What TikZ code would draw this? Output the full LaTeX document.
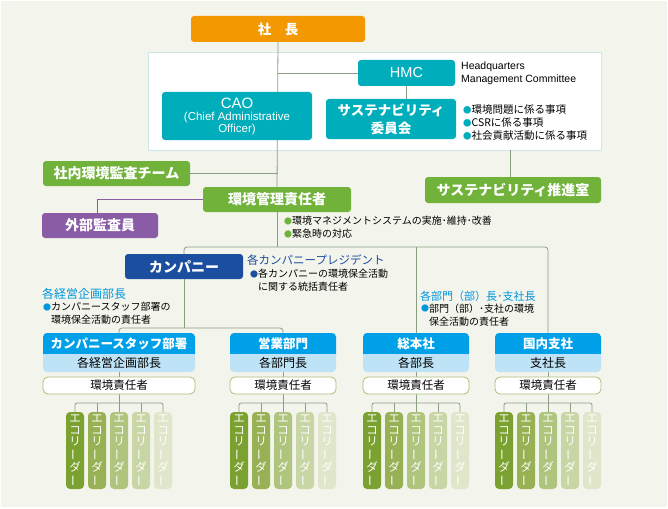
\documentclass[tikz,border=0pt]{standalone}
\usepackage{fontspec}
\setmainfont{Noto Sans CJK JP}
\newfontfamily\lat{Liberation Sans}
\usepackage{graphicx}
\usetikzlibrary{calc}
\definecolor{bgc}{HTML}{F3F4EC}
\definecolor{orangec}{HTML}{F39800}
\definecolor{tealc}{HTML}{00AEBB}
\definecolor{greenc}{HTML}{71B33A}
\definecolor{purplec}{HTML}{8B5CA6}
\definecolor{navyc}{HTML}{1B4E9E}
\definecolor{hbluec}{HTML}{00A0E9}
\definecolor{lbluec}{HTML}{BEE3F7}
\definecolor{cyanc}{HTML}{0096DB}
\definecolor{linec}{HTML}{8A9F82}
\definecolor{panelc}{HTML}{CFE6E8}
\definecolor{respc}{HTML}{A9C07A}
\definecolor{ecoa}{HTML}{7BA130}
\definecolor{ecob}{HTML}{97B154}
\definecolor{ecoc}{HTML}{AFC47D}
\definecolor{ecod}{HTML}{C8D5A4}
\definecolor{ecoe}{HTML}{DFE6CA}
\pgfdeclarelayer{back}
\pgfdeclarelayer{mid}
\pgfsetlayers{back,mid,main}
\newcommand\bul[1]{\textcolor{#1}{\raisebox{0.5pt}{\scalebox{0.8}{●}}}}
\newcommand\nobul{\phantom{\scalebox{0.8}{●}}}
\newcommand\ecobar{\rotatebox[origin=c]{90}{ー}}
\newcommand\ecotext{エ\\コ\\リ\\\ecobar\\ダ\\\ecobar}
\newcommand\drawgroup[5]{%
  \fill[hbluec] ({#2-#3/2},354) {[rounded corners=4pt] -- ({#2-#3/2},333) -- ({#2+#3/2},333)} -- ({#2+#3/2},354) -- cycle;
  \fill[lbluec] ({#2-#3/2},354) {[rounded corners=4pt] -- ({#2-#3/2},372) -- ({#2+#3/2},372)} -- ({#2+#3/2},354) -- cycle;
  \node[hdrtext, minimum width=#3] (#1h) at (#2,343.5) {#4};
  \node[subtext, minimum width=#3] (#1s) at (#2,363) {#5};
  \node[resp, minimum width=#3] (#1r) at (#2,385.5) {環境責任者};
  \foreach \i/\c in {1/ecoa,2/ecob,3/ecoc,4/ecod,5/ecoe}
    \node[eco, fill=\c] (#1e\i) at ({#2+(\i-3)*22},450.5) {\ecotext};
  \coordinate (#1bus) at (#2,403);
  \begin{pgfonlayer}{mid}
  \draw[conn] (#1s.south) -- (#1r.north);
  \draw[conn] (#1r.south) -- (#1e3.north);
  \draw[conn, rounded corners=2pt] (#1e1.north) |- (#1bus) -| (#1e5.north);
  \draw[conn] (#1e2.north) -- (#1e2.north |- #1bus);
  \draw[conn] (#1e4.north) -- (#1e4.north |- #1bus);
  \end{pgfonlayer}
}
\begin{document}
\begin{tikzpicture}[x=1pt,y=-1pt,
  box/.style={rounded corners=3pt, inner sep=0pt, text=white, align=center},
  conn/.style={draw=linec, line width=0.8pt},
  big/.style={font=\fontsize{14}{16}\selectfont\bfseries},
  hdrtext/.style={inner sep=0pt, minimum height=21pt, text=white, font=\fontsize{12.5}{14}\selectfont\bfseries},
  subtext/.style={inner sep=0pt, minimum height=18pt, text=black, font=\fontsize{12}{14}\selectfont},
  resp/.style={draw=respc, line width=0.8pt, fill=white, rounded corners=5pt, inner sep=0pt, minimum height=17pt, font=\fontsize{11.5}{13}\selectfont},
  eco/.style={rounded corners=4pt, inner sep=0pt, minimum width=18pt, minimum height=77pt, text=white, align=center, font=\fontsize{11.5}{11.6}\selectfont},
  note/.style={inner sep=0pt, align=left, anchor=west, font=\fontsize{10}{13}\selectfont}
]
\useasboundingbox (0,0) rectangle (668,508);
\begin{pgfonlayer}{back}
\fill[bgc] (0,0) rectangle (668,508);
\draw[white, line width=1pt] (0.5,0.5) rectangle (667.5,507.5);
\end{pgfonlayer}
\begin{pgfonlayer}{back}
\node[draw=panelc, line width=0.8pt, fill=white, minimum width=453pt, minimum height=98pt, inner sep=0pt, anchor=north west] (panel) at (148,52) {};
\end{pgfonlayer}

% top boxes
\node[box, fill=orangec, minimum width=174pt, minimum height=26pt, font=\fontsize{13.5}{15}\selectfont\bfseries] (shacho) at (278,29) {社　長};
\node[box, fill=tealc, minimum width=97pt, minimum height=26pt, font=\lat\fontsize{14.5}{16}\selectfont] (hmc) at (406.5,73) {HMC};
\node[box, fill=tealc, minimum width=130pt, minimum height=40pt, font=\fontsize{13.5}{18}\selectfont\bfseries] (sus) at (391,119) {サステナビリティ\\委員会};
\node[box, fill=tealc, minimum width=150pt, minimum height=48pt, font=\lat\fontsize{11.5}{11.5}\selectfont] (cao) at (237,116) {{\fontsize{15}{15}\selectfont CAO}\\[1pt](Chief Administrative\\Officer)};
\node[note, font=\lat\fontsize{10.5}{13}\selectfont] (hq) at (461,73.5) {Headquarters\\Management Committee};
\node[note, font=\fontsize{10.5}{13}\selectfont] (susnote) at (463,123) {\bul{tealc}環境問題に係る事項\\\bul{tealc}CSRに係る事項\\\bul{tealc}社会貢献活動に係る事項};

\node[box, fill=greenc, minimum width=176pt, minimum height=26pt, big] (suishin) at (513,190) {サステナビリティ推進室};
\node[box, fill=greenc, minimum width=147pt, minimum height=25pt, big] (audit) at (116.5,173.5) {社内環境監査チーム};
\node[box, fill=greenc, minimum width=148pt, minimum height=25pt, big] (kanri) at (277,199.5) {環境管理責任者};
\node[box, fill=purplec, minimum width=116pt, minimum height=25pt, big] (gaibu) at (100,225.5) {外部監査員};
\node[note] (kanrinote) at (284,227.5) {\bul{greenc}環境マネジメントシステムの実施･維持･改善\\\bul{greenc}緊急時の対応};

\node[box, fill=navyc, minimum width=118pt, minimum height=25pt, big] (cmp) at (184,266.5) {カンパニー};
\node[note, text=navyc, font=\fontsize{11.5}{13}\selectfont] (pres) at (247,260) {各カンパニープレジデント};
\node[note] (presnote) at (250,280.5) {\bul{navyc}各カンパニーの環境保全活動\\\nobul に関する統括責任者};
\node[note, text=cyanc, font=\fontsize{12}{14}\selectfont] (keiei) at (42,294) {各経営企画部長};
\node[note] (keieinote) at (43,313.5) {\bul{cyanc}カンパニースタッフ部署の\\\nobul 環境保全活動の責任者};
\node[note, text=cyanc, font=\fontsize{11}{13}\selectfont] (bumon) at (420,296) {各部門（部）長･支社長};
\node[note] (bumonnote) at (421,315) {\bul{cyanc}部門（部）･支社の環境\\\nobul 保全活動の責任者};

\drawgroup{ga}{119}{152}{カンパニースタッフ部署}{各経営企画部長}
\drawgroup{gb}{283}{106}{営業部門}{各部門長}
\drawgroup{gc}{416}{106}{総本社}{各部長}
\drawgroup{gd}{548}{106}{国内支社}{支社長}

\coordinate (p1) at (510,150);
\coordinate (b0) at (277,247);
\coordinate (b1) at (184,328);
\begin{pgfonlayer}{mid}
\draw[conn] (shacho.south) -- (kanri.north);
\draw[conn] (shacho.south |- hmc.west) -- (hmc.west);
\draw[conn] (hmc.south) -- (hmc.south |- sus.north);
\draw[conn] (p1) -- (p1 |- suishin.north);
\draw[conn] (audit.east) -- (audit.east -| shacho.south);
\draw[draw=purplec, line width=0.8pt] (kanri.west) -| ($(gaibu.north)+(-3,0)$);
\draw[conn] (kanri.south) -- (b0);
\draw[conn, rounded corners=3pt] (cmp.north) |- (b0) -| (gdh.north);
\draw[conn] (b0 -| gch.north) -- (gch.north);
\draw[conn] (cmp.south) -- (b1);
\draw[conn, rounded corners=3pt] (gah.north) |- (b1) -| (gbh.north);
\end{pgfonlayer}
\end{tikzpicture}
\end{document}
